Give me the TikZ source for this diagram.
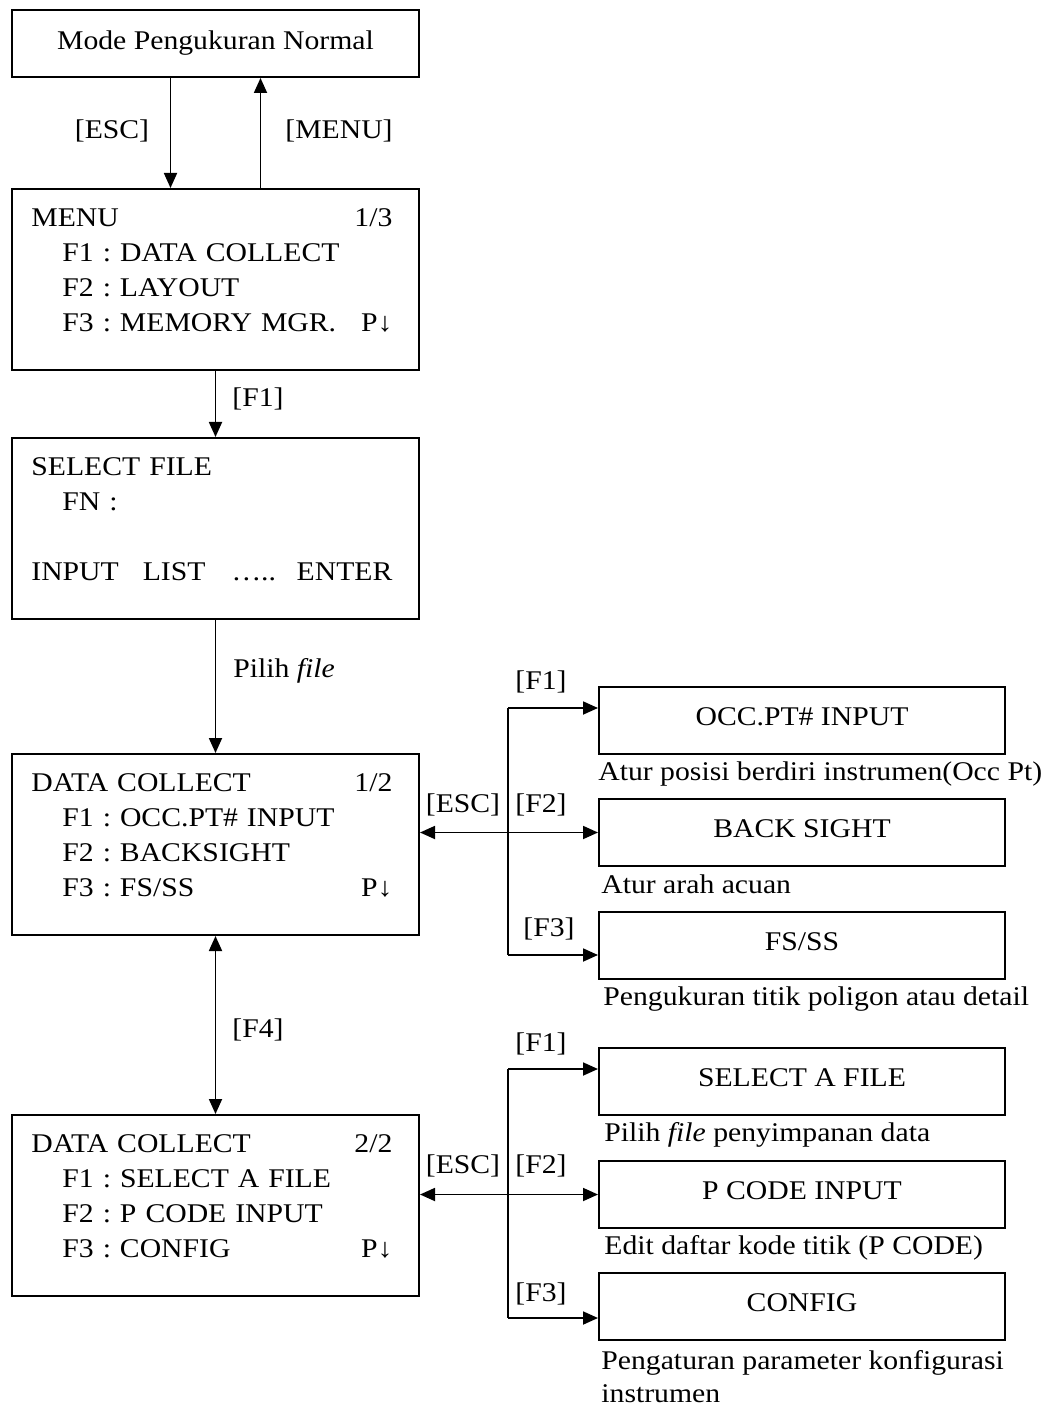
\documentclass[tikz,border=0pt]{standalone}
\usepackage{fontspec}
\setmainfont[FakeStretch=1.1]{Liberation Serif}
\usetikzlibrary{arrows.meta,positioning}

\tikzset{
  screen/.style={draw, line width=1pt, minimum width=203.5pt, minimum height=90.5pt, anchor=north west, inner sep=0pt},
  title/.style={draw, line width=1pt, minimum width=203.5pt, minimum height=33.5pt, anchor=north west, inner sep=0pt},
  keybox/.style={draw, line width=1pt, minimum width=203pt, minimum height=33.5pt, anchor=north west, inner sep=0pt, text height=9.5pt, text depth=5pt},
  lcd/.style={anchor=base west, align=left, text width=180.5pt, inner sep=0pt},
  key/.style={anchor=base, inner sep=0pt},
  note/.style={anchor=base west, inner sep=0pt, align=left},
  arr/.style={line width=0.9pt, -{Triangle[length=7.5pt,width=6.5pt]}},
  darr/.style={line width=0.9pt, {Triangle[length=7.5pt,width=6.5pt]}-{Triangle[length=7.5pt,width=6.5pt]}},
}
\newcommand{\ind}{\hspace*{15.5pt}}

\begin{document}
\frenchspacing
\begin{tikzpicture}[x=0.5pt,y=-0.5pt,font=\fontsize{13.5pt}{17.5pt}\selectfont]
\useasboundingbox (0,0) rectangle (1054,1406);

% left column
\node[title] (mode) at (11,9) {Mode Pengukuran Normal};
\node[screen] (menu) at (11,188) {};
\node[lcd] (menutxt) at (31,227) {MENU\hfill 1/3\\ \ind F1 : DATA COLLECT\\ \ind F2 : LAYOUT\\ \ind F3 : MEMORY MGR.\hfill P↓};
\node[screen] (sel) at (11,437) {};
\node[lcd] (seltxt) at (31,475) {SELECT FILE\\ \ind FN :\\[17.5pt] INPUT\hspace{12pt}LIST\hspace{13pt}…..\hfill ENTER};
\node[screen] (dca) at (11,753) {};
\node[lcd] (dcatxt) at (31,791) {DATA COLLECT\hfill 1/2\\ \ind F1 : OCC.PT\# INPUT\\ \ind F2 : BACKSIGHT\\ \ind F3 : FS/SS\hfill P↓};
\node[screen] (dcb) at (11,1114) {};
\node[lcd] (dcbtxt) at (31,1152) {DATA COLLECT\hfill 2/2\\ \ind F1 : SELECT A FILE\\ \ind F2 : P CODE INPUT\\ \ind F3 : CONFIG\hfill P↓};

\draw[arr] ([xshift=-22.5pt]mode.south) -- ([xshift=-22.5pt]menu.north);
\draw[arr] ([xshift=22.5pt]menu.north) -- ([xshift=22.5pt]mode.south);
\draw[arr] (menu) -- (sel);
\draw[arr] (sel) -- (dca);
\draw[darr] (dca) -- (dcb);
\node[key] (kesc) at (112,139) {[ESC]};
\node[key] (kmenu) at (339,139) {[MENU]};
\node[key] (kf1) at (258,407) {[F1]};
\node[note] (kpilih) at (233,677) {Pilih \textit{file}};
\node[key] (kf4) at (258,1037) {[F4]};

% page 1/2
\node[keybox] (occ) at (598,686) {OCC.PT\# INPUT};
\node[keybox] (bs) at (598,798) {BACK SIGHT};
\node[keybox] (fs) at (598,911) {FS/SS};
\node[note] (nocc) at (598,780) {Atur posisi berdiri instrumen(Occ Pt)};
\node[note] (nbs) at (601,893) {Atur arah acuan};
\node[note] (nfs) at (603,1005) {Pengukuran titik poligon atau detail};
\coordinate (ja) at (508,708);
\coordinate (jc) at (508,955);
\draw[line width=0.9pt] (ja) -- (jc);
\draw[arr] (ja) -- (ja -| occ.west);
\draw[darr] (bs.west -| dca.east) -- (bs.west);
\draw[arr] (jc) -- (jc -| fs.west);
\node[key] (af1) at (541,689) {[F1]};
\node[key] (aesc) at (463,812) {[ESC]};
\node[key] (af2) at (541,812) {[F2]};
\node[key] (af3) at (549,936) {[F3]};

% page 2/2
\node[keybox] (sf) at (598,1047) {SELECT A FILE};
\node[keybox] (pc) at (598,1160) {P CODE INPUT};
\node[keybox] (cf) at (598,1272) {CONFIG};
\node[note] (nsf) at (604,1141) {Pilih \textit{file} penyimpanan data};
\node[note] (npc) at (604,1254) {Edit daftar kode titik (P CODE)};
\node[note] (ncf) at (601,1402) {Pengaturan parameter konfigurasi\\[-1pt]instrumen};
\coordinate (jd) at (508,1069);
\coordinate (jf) at (508,1318);
\draw[line width=0.9pt] (jd) -- (jf);
\draw[arr] (jd) -- (jd -| sf.west);
\draw[darr] (pc.west -| dcb.east) -- (pc.west);
\draw[arr] (jf) -- (jf -| cf.west);
\node[key] (bf1) at (541,1051) {[F1]};
\node[key] (besc) at (463,1173) {[ESC]};
\node[key] (bf2) at (541,1173) {[F2]};
\node[key] (bf3) at (541,1301) {[F3]};
\end{tikzpicture}
\end{document}
